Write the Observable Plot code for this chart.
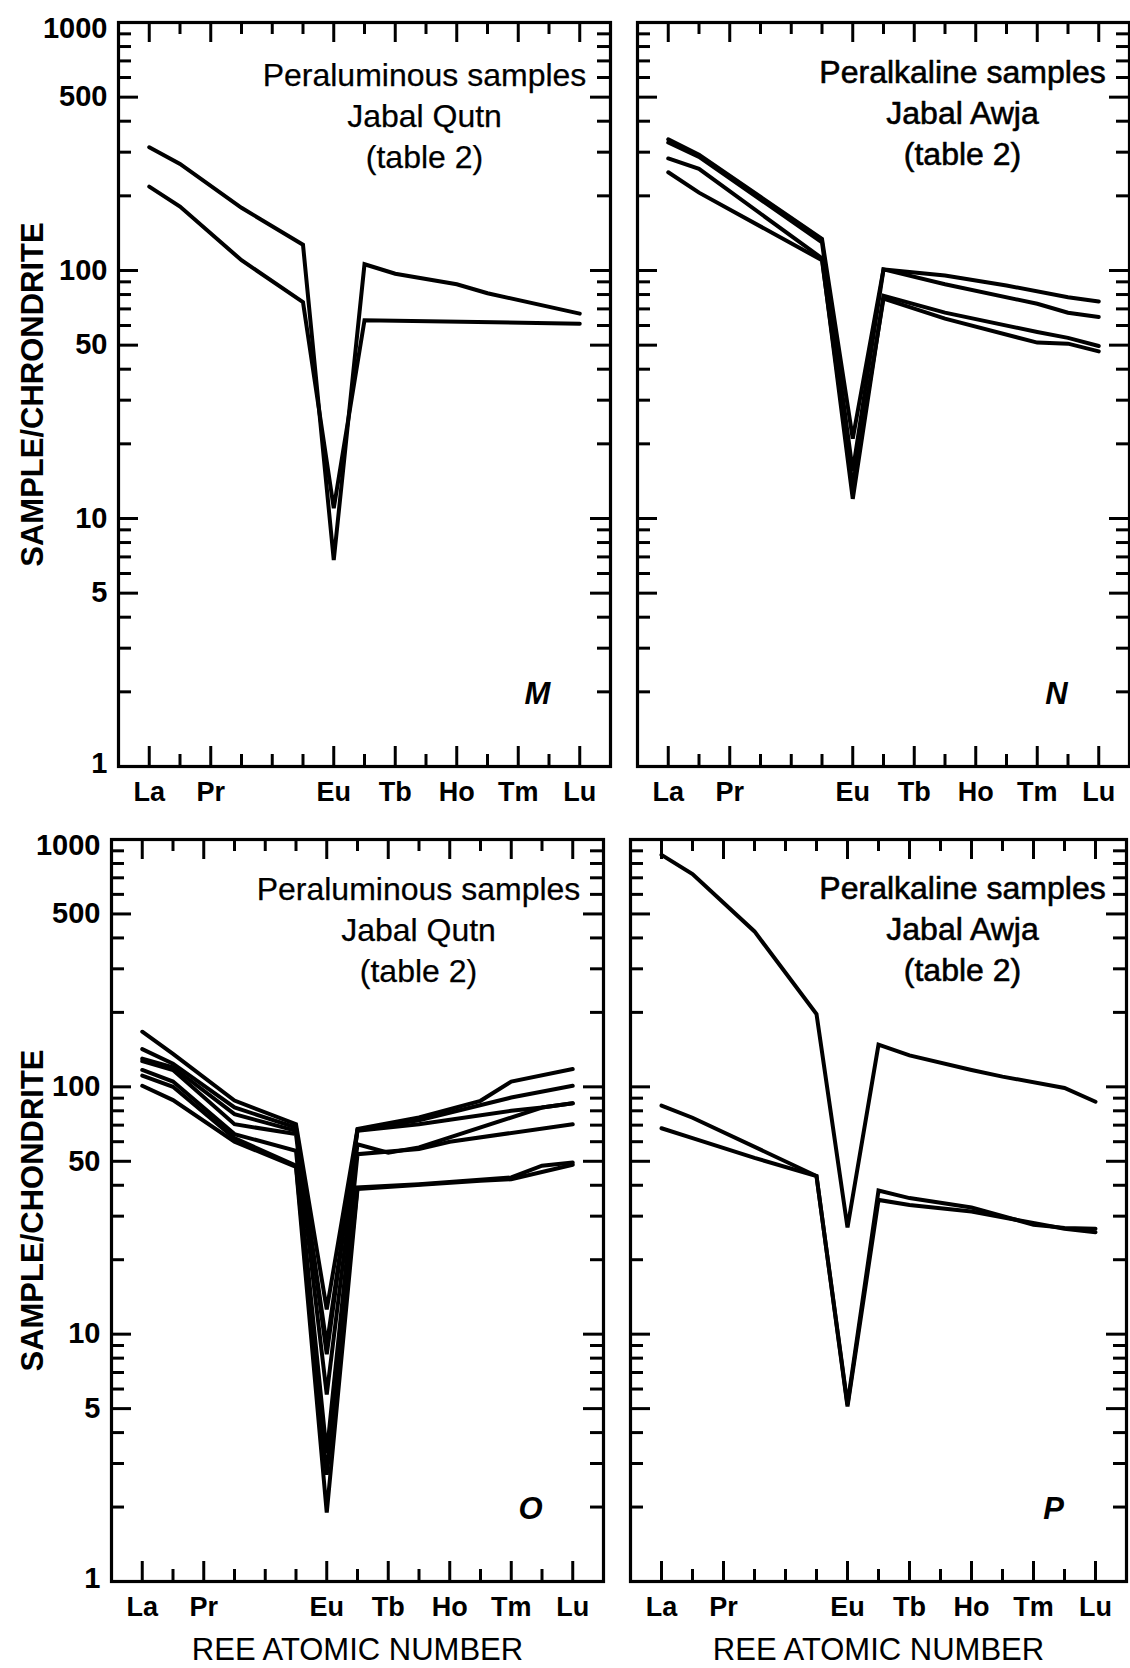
<!DOCTYPE html>
<html><head><meta charset="utf-8">
<script src="https://cdn.jsdelivr.net/npm/d3@7"></script>
<script src="https://cdn.jsdelivr.net/npm/@observablehq/plot@0.6"></script>
<style>
body{margin:0;background:#fff;}
#wrap{position:relative;width:1130px;height:1668px;overflow:hidden;background:#fff;}
#wrap svg{position:absolute;}
</style></head><body><div id="wrap"></div>
<script>
// ---- data ----
const elements = ["La","Ce","Pr","Nd","Pm","Sm","Eu","Gd","Tb","Dy","Ho","Er","Tm","Yb","Lu"];
const atomicNumbers = [57,58,59,60,61,62,63,64,65,66,67,68,69,70,71];
const xTickLabels = ["La","Pr","Eu","Tb","Ho","Tm","Lu"];
const yTickLabels = [1,5,10,50,100,500,1000];
const yMinorTicks = [2,3,4,6,7,8,9,20,30,40,60,70,80,90,200,300,400,600,700,800,900];

const panelMSeries = [
  [["La",314],["Ce",269],["Nd",179],["Sm",127],["Eu",6.8],["Gd",106],["Tb",97],["Ho",88],["Er",81],["Lu",67]],
  [["La",218],["Ce",181],["Nd",110],["Sm",74.5],["Eu",11],["Gd",63],["Lu",61]]
];
const panelNSeries = [
  [["La",338],["Ce",293],["Sm",134],["Eu",21],["Gd",101],["Dy",95.5],["Er",87],["Yb",78],["Lu",75]],
  [["La",328],["Ce",287],["Sm",130],["Eu",15.5],["Gd",101],["Dy",88],["Tm",73.4],["Yb",67.6],["Lu",64.9]],
  [["La",283],["Ce",257],["Sm",112],["Eu",12],["Gd",79],["Dy",67.6],["Tm",56.5],["Yb",53.5],["Lu",49.6]],
  [["La",249],["Ce",206],["Sm",110],["Eu",13.5],["Gd",77],["Dy",64],["Tm",51.2],["Yb",50.7],["Lu",47.2]]
];
const panelOSeries = [
  [["La",167],["Ce",136],["Nd",88],["Sm",70.6],["Eu",12.6],["Gd",67.5],["Dy",75.2],["Er",87.8],["Tm",105],["Lu",118]],
  [["La",142],["Ce",124],["Nd",82.5],["Sm",68.5],["Eu",8.3],["Gd",67],["Dy",73.3],["Tm",90.5],["Lu",101]],
  [["La",130],["Ce",120],["Nd",77.5],["Sm",66.4],["Eu",9],["Gd",66.4],["Dy",70.6],["Tm",80],["Yb",82.5],["Lu",85.8]],
  [["La",127],["Ce",117],["Nd",70.6],["Sm",64.4],["Eu",5.7],["Gd",58.6],["Tb",54.2],["Dy",56.9],["Yb",82.5],["Lu",85.8]],
  [["La",117],["Ce",105],["Nd",64.4],["Sm",55.1],["Eu",3.3],["Gd",53.4],["Dy",56],["Ho",60],["Lu",70.6]],
  [["La",111],["Ce",100],["Nd",62],["Sm",48],["Eu",2.7],["Gd",39.2],["Dy",40.4],["Tm",43],["Yb",48],["Lu",49.4]],
  [["La",101],["Ce",88.4],["Nd",60],["Sm",47.5],["Eu",1.9],["Gd",38.6],["Er",41.7],["Tm",42.3],["Lu",48.4]]
];
const panelPSeries = [
  [["La",867],["Ce",725],["Nd",425],["Sm",197],["Eu",27],["Gd",148],["Tb",134],["Ho",117],["Er",110],["Yb",99],["Lu",87]],
  [["La",84],["Ce",75],["Sm",43.6],["Eu",5.2],["Gd",38.1],["Tb",35.5],["Ho",32.5],["Tm",27.7],["Yb",26.9],["Lu",26.7]],
  [["La",68],["Ce",62],["Nd",51.6],["Sm",43.6],["Eu",5.1],["Gd",34.9],["Tb",33.3],["Ho",31.3],["Yb",26.7],["Lu",25.8]]
];

const titlePeraluminous = "Peraluminous samples\nJabal Qutn\n(table 2)";
const titlePeralkaline = "Peralkaline samples\nJabal Awja\n(table 2)";
const yTitleTop = "SAMPLE/CHRONDRITE";
const yTitleBottom = "SAMPLE/CHONDRITE";
const xTitle = "REE ATOMIC NUMBER";

// ---- helpers ----
const Z = Object.fromEntries(elements.map((e, i) => [e, atomicNumbers[i]]));
const tallTicks = xTickLabels.map(e => Z[e]);
const shortTicks = atomicNumbers.filter(n => !tallTicks.includes(n));
const FONT = "'Liberation Sans', Arial, Helvetica, sans-serif";

function toRows(series) {
  return series.flatMap((s, i) => s.map(([el, v]) => ({series: i, z: Z[el], v})));
}

function panel(cfg) {
  const fw = cfg.fr - cfg.fl, fh = cfg.fb - cfg.ft;
  const tk = {stroke: "black", strokeWidth: 3, strokeLinecap: "butt"};
  const majLen = 20, minLen = 13, xTall = 20, xShort = 12;
  const marks = [
    Plot.line(toRows(cfg.series), {x: "z", y: "v", z: "series", stroke: "black", strokeWidth: 4, strokeLinejoin: "miter", strokeMiterlimit: 3}),
    Plot.tickY(yMinorTicks, {y: d => d, insetRight: fw - minLen, ...tk}),
    Plot.tickY(yTickLabels, {y: d => d, insetRight: fw - majLen, ...tk}),
    Plot.tickY(yMinorTicks, {y: d => d, insetLeft: fw - minLen, ...tk}),
    Plot.tickY(yTickLabels, {y: d => d, insetLeft: fw - majLen, ...tk}),
    Plot.tickX(shortTicks, {x: d => d, insetTop: fh - xShort, ...tk}),
    Plot.tickX(tallTicks, {x: d => d, insetTop: fh - xTall, ...tk}),
    Plot.tickX(shortTicks, {x: d => d, insetBottom: fh - xShort, ...tk}),
    Plot.tickX(tallTicks, {x: d => d, insetBottom: fh - xTall, ...tk}),
    Plot.frame({stroke: "black", strokeWidth: 3.2}),
    Plot.text(xTickLabels, {x: d => Z[d], text: d => d, frameAnchor: "bottom", lineAnchor: "middle", textAnchor: "middle", dy: 26, fontSize: 27, fontWeight: "bold"}),
    Plot.text([cfg.title], {text: d => d, frameAnchor: "top", textAnchor: "middle", dx: cfg.titleDx, dy: cfg.titleDy, lineAnchor: "middle", lineHeight: 1.28, fontSize: 32,
      fill: "black", stroke: "black", strokeWidth: cfg.titleStroke}),
    Plot.text([cfg.letter], {text: d => d, frameAnchor: "bottom-right", textAnchor: "middle", lineAnchor: "middle", dx: -73, dy: -72, fontSize: 31, fontWeight: "bold", fontStyle: "italic"})
  ];
  if (cfg.yLabels) {
    const mid = yTickLabels.filter(d => d !== 1 && d !== 1000);
    const yl = {y: d => d, text: d => String(d), frameAnchor: "left", textAnchor: "end", lineAnchor: "middle", dx: -11, fontSize: 29, fontWeight: "bold"};
    marks.push(
      Plot.text(mid, yl),
      Plot.text([1000], {...yl, dy: 6}),
      Plot.text([1], {...yl, dy: -3}),
      Plot.text([cfg.yTitle], {text: d => d, frameAnchor: "left", textAnchor: "middle", lineAnchor: "middle", dx: -(cfg.fl - 33), rotate: -90, fontSize: 31, fontWeight: "bold"})
    );
  }
  if (cfg.xTitle) {
    marks.push(Plot.text([cfg.xTitle], {text: d => d, frameAnchor: "bottom", textAnchor: "middle", lineAnchor: "middle", dy: 69, fontSize: 31}));
  }
  const svg = Plot.plot({
    width: fw + cfg.mL + cfg.mR,
    height: fh + cfg.mT + cfg.mB,
    marginLeft: cfg.mL, marginRight: cfg.mR, marginTop: cfg.mT, marginBottom: cfg.mB,
    x: {domain: [56, 72], axis: null},
    y: {type: "log", domain: [1, 1000], axis: null},
    style: {background: "transparent", fontFamily: FONT, overflow: "visible", color: "black"},
    marks
  });
  svg.style.left = (cfg.fl - cfg.mL) + "px";
  svg.style.top = (cfg.ft - cfg.mT) + "px";
  svg.style.maxWidth = "none";
  document.getElementById("wrap").appendChild(svg);
}

panel({fl: 118, fr: 610, ft: 22, fb: 766, mL: 118, mR: 12, mT: 22, mB: 56,
  series: panelMSeries, title: titlePeraluminous, titleDx: 60, titleDy: 91, titleStroke: 0.25,
  letter: "M", yLabels: true, yTitle: yTitleTop});
panel({fl: 637, fr: 1129, ft: 22, fb: 766, mL: 15, mR: 1, mT: 22, mB: 56,
  series: panelNSeries, title: titlePeralkaline, titleDx: 79, titleDy: 88, titleStroke: 0.6,
  letter: "N"});
panel({fl: 111, fr: 603, ft: 839, fb: 1581, mL: 111, mR: 12, mT: 15, mB: 87,
  series: panelOSeries, title: titlePeraluminous, titleDx: 61, titleDy: 88, titleStroke: 0.25,
  letter: "O", yLabels: true, yTitle: yTitleBottom, xTitle: xTitle});
panel({fl: 630, fr: 1126, ft: 839, fb: 1581, mL: 15, mR: 4, mT: 15, mB: 87,
  series: panelPSeries, title: titlePeralkaline, titleDx: 84, titleDy: 87, titleStroke: 0.6,
  letter: "P", xTitle: xTitle});
</script></body></html>
